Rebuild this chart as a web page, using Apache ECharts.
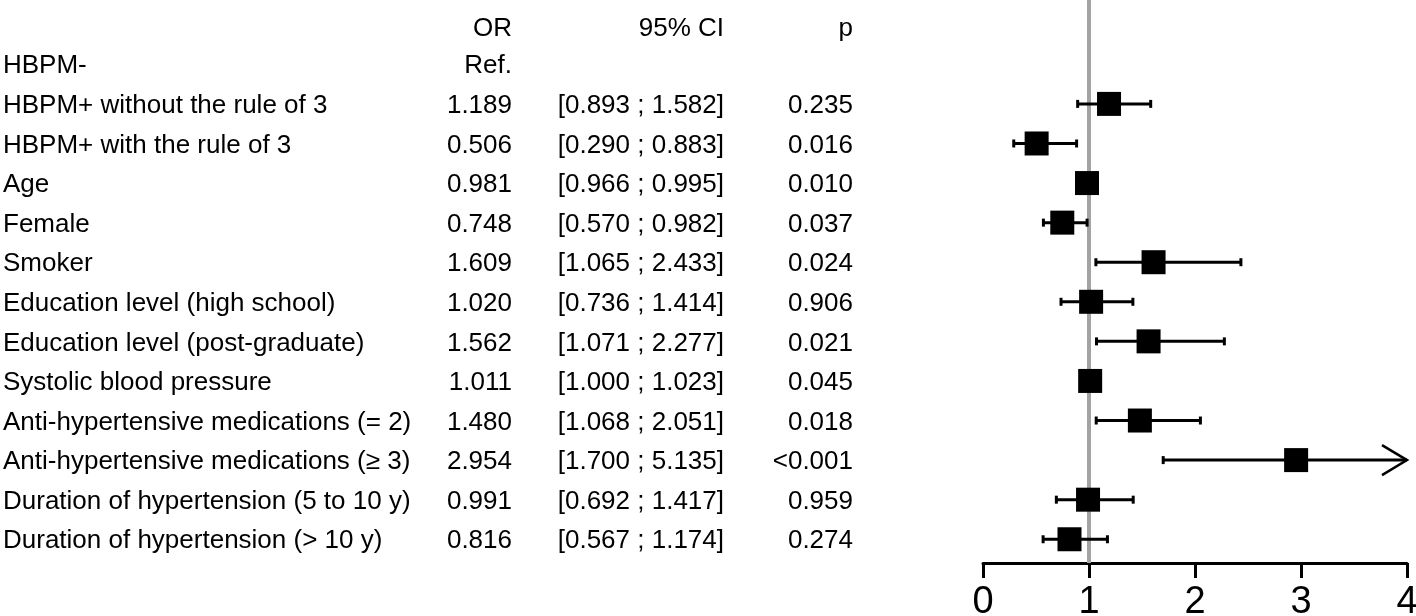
<!DOCTYPE html>
<html>
	<head>
		<meta http-equiv="Content-Type" content="text/html; charset=utf-8" />
		<title>Forest plot</title>
		<style>
			body,
			html {
				padding: 0;
				margin: 0;
				background: #fff;
			}
		</style>
	</head>
	<body>
		<div id="container" style="width: 1416px; height: 616px"></div>
		<script src="https://cdn.jsdelivr.net/npm/echarts@6/dist/echarts.min.js"></script>
		<script>
			// table rows, top to bottom
			var labels = [
				'HBPM-',
				'HBPM+ without the rule of 3',
				'HBPM+ with the rule of 3',
				'Age',
				'Female',
				'Smoker',
				'Education level (high school)',
				'Education level (post-graduate)',
				'Systolic blood pressure',
				'Anti-hypertensive medications (= 2)',
				'Anti-hypertensive medications (\u2265 3)',
				'Duration of hypertension (5 to 10 y)',
				'Duration of hypertension (> 10 y)'
			];
			var oddsRatio = [null, 1.189, 0.506, 0.981, 0.748, 1.609, 1.020, 1.562, 1.011, 1.480, 2.954, 0.991, 0.816];
			var ciLow = [null, 0.893, 0.290, 0.966, 0.570, 1.065, 0.736, 1.071, 1.000, 1.068, 1.700, 0.692, 0.567];
			var ciHigh = [null, 1.582, 0.883, 0.995, 0.982, 2.433, 1.414, 2.277, 1.023, 2.051, 5.135, 1.417, 1.174];
			var pValues = ['', '0.235', '0.016', '0.010', '0.037', '0.024', '0.906', '0.021', '0.045', '0.018', '<0.001', '0.959', '0.274'];
			var headers = ['OR', '95% CI', 'p'];
			var xTicks = [0, 1, 2, 3, 4];
			var refLine = 1;

			var xMax = xTicks[xTicks.length - 1];
			var font = '26px "Liberation Sans", Arial, sans-serif';
			var rowMin = -1.6, rowMax = 12.6;

			var tableData = labels.map(function (l, i) { return [0, i]; });
			var barData = [];
			oddsRatio.forEach(function (v, i) {
				if (v != null) barData.push([v, i, ciLow[i], ciHigh[i]]);
			});

			function txt(p, s, align) {
				return {
					type: 'text',
					style: {
						x: p[0], y: p[1] + 2, text: s, font: font, fill: '#000',
						textAlign: align, textVerticalAlign: 'middle',
						align: align, verticalAlign: 'middle'
					}
				};
			}

			function renderTable(params, api) {
				var i = api.value(1);
				var ci = ciLow[i] == null ? '' : '[' + ciLow[i].toFixed(3) + ' ; ' + ciHigh[i].toFixed(3) + ']';
				var or = oddsRatio[i] == null ? 'Ref.' : oddsRatio[i].toFixed(3);
				var kids = [
					txt(api.coord([3, i]), labels[i], 'left'),
					txt(api.coord([512, i]), or, 'right'),
					txt(api.coord([724, i]), ci, 'right'),
					txt(api.coord([853, i]), pValues[i], 'right')
				];
				if (i === 0) {
					kids.push(txt(api.coord([512, -0.95]), headers[0], 'right'));
					kids.push(txt(api.coord([724, -0.95]), headers[1], 'right'));
					kids.push(txt(api.coord([853, -0.95]), headers[2], 'right'));
				}
				return { type: 'group', children: kids };
			}

			function renderRef(params, api) {
				var a = api.coord([api.value(0), rowMin]);
				var b = api.coord([api.value(0), rowMax]);
				return {
					type: 'line',
					shape: { x1: a[0], y1: a[1] - 2, x2: b[0], y2: b[1] },
					style: { stroke: '#a3a3a3', lineWidth: 4 }
				};
			}

			function renderBar(params, api) {
				var row = api.value(1);
				var c = api.coord([api.value(0), row]);
				var a = api.coord([api.value(2), row]);
				var hi = api.value(3);
				var b = api.coord([Math.min(hi, xMax), row]);
				var line = { stroke: '#000', lineWidth: 3 };
				var kids = [
					{ type: 'line', shape: { x1: a[0], y1: a[1], x2: b[0], y2: b[1] }, style: line },
					{ type: 'line', shape: { x1: a[0], y1: a[1] - 4, x2: a[0], y2: a[1] + 4 }, style: line }
				];
				if (hi > xMax) {
					kids.push({
						type: 'polyline',
						shape: { points: [[b[0] - 25, b[1] - 15], [b[0], b[1]], [b[0] - 25, b[1] + 15]] },
						style: { stroke: '#000', lineWidth: 2.5, fill: null }
					});
				} else {
					kids.push({ type: 'line', shape: { x1: b[0], y1: b[1] - 4, x2: b[0], y2: b[1] + 4 }, style: line });
				}
				kids.push({ type: 'rect', shape: { x: c[0] - 12, y: c[1] - 12, width: 24, height: 24 }, style: { fill: '#000' } });
				return { type: 'group', children: kids };
			}

			var chart = echarts.init(document.getElementById('container'));
			chart.setOption({
				animation: false,
				backgroundColor: '#fff',
				grid: [
					{ left: 0, top: 1, width: 870, height: 562, outerBoundsMode: 'none', containLabel: false },
					{ left: 983, top: 1, width: 424, height: 562, outerBoundsMode: 'none', containLabel: false }
				],
				xAxis: [
					{ gridIndex: 0, type: 'value', min: 0, max: 870, show: false },
					{
						gridIndex: 1, type: 'value', min: 0, max: xMax, interval: 1, position: 'bottom',
						splitLine: { show: false },
						axisLine: { onZero: false, lineStyle: { color: '#000', width: 3 } },
						axisTick: { length: 15, lineStyle: { color: '#000', width: 3 } },
						axisLabel: {
							color: '#000', fontSize: 38, margin: 21,
							fontFamily: '"Liberation Sans", Arial, sans-serif',
							showMinLabel: true, showMaxLabel: true,
							formatter: function (v) { return xTicks.indexOf(v) >= 0 ? String(v) : ''; }
						}
					}
				],
				yAxis: [
					{ gridIndex: 0, type: 'value', inverse: true, min: rowMin, max: rowMax, show: false },
					{ gridIndex: 1, type: 'value', inverse: true, min: rowMin, max: rowMax, show: false }
				],
				series: [
					{
						type: 'custom', xAxisIndex: 0, yAxisIndex: 0,
						renderItem: renderTable, data: tableData, silent: true
					},
					{
						type: 'custom', xAxisIndex: 1, yAxisIndex: 1, z: 1,
						renderItem: renderRef, data: [[refLine]], silent: true, clip: false
					},
					{
						type: 'custom', xAxisIndex: 1, yAxisIndex: 1, z: 3,
						renderItem: renderBar, data: barData, silent: true, clip: false
					}
				]
			});
		</script>
	</body>
</html>
